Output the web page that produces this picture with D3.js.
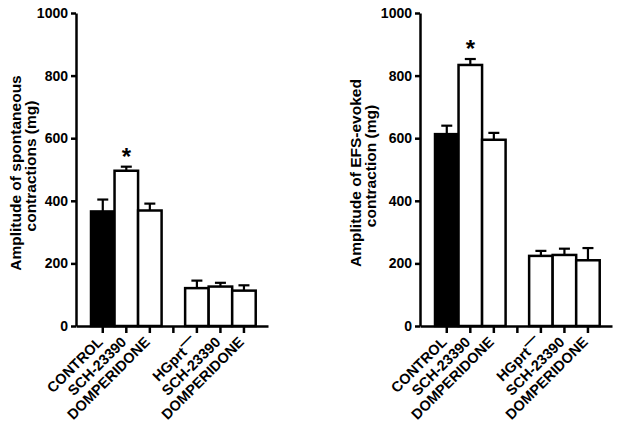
<!DOCTYPE html>
<html>
<head>
<meta charset="utf-8">
<script src="https://cdn.jsdelivr.net/npm/d3@7"></script>
<style>
  body { margin: 0; background: #fff; }
  svg { display: block; font-family: "Liberation Sans", Arial, sans-serif; }
</style>
</head>
<body>
<div id="chart"></div>
<script>
// groups on the x axis (slot 3 is the empty gap between the two groups)
var categories = ["CONTROL", "SCH-23390", "DOMPERIDONE", "", "HGprt", "SCH-23390", "DOMPERIDONE"];
var barFills = ["#000", "#fff", "#fff", null, "#fff", "#fff", "#fff"];
var yTicks = [0, 200, 400, 600, 800, 1000];

// spontaneous contractions (mg), mean and SEM
var spontMean = [366, 496, 369, null, 121, 126, 113];
var spontSem = [38, 13, 22, null, 24, 12, 17];
var spontStar = [1];

// EFS-evoked contraction (mg), mean and SEM
var efsMean = [613, 834, 595, null, 224, 227, 210];
var efsSem = [27, 19, 22, null, 16, 20, 39];
var efsStar = [1];

var W = 618, H = 428;
var FONT = "'Liberation Sans', Arial, sans-serif";

var svg = d3.select("#chart").append("svg")
  .attr("width", W)
  .attr("height", H);

function panel(opts) {
  var x = d3.scaleBand()
    .domain(d3.range(categories.length))
    .range([opts.left, opts.left + 192])
    .paddingInner(0)
    .paddingOuter(0.58)
    .align(0.55);

  var y = d3.scaleLinear()
    .domain([0, 1000])
    .range([326, 13]);

  var g = svg.append("g");

  var rows = categories.map(function (c, i) {
    return {i: i, name: c, mean: opts.mean[i], sem: opts.sem[i], fill: barFills[i]};
  }).filter(function (d) { return d.mean != null; });

  function cx(i) { return x(i) + x.bandwidth() / 2; }

  // error bars (upper only)
  var cap = 5.5;
  var eb = g.selectAll("g.err").data(rows).enter().append("g").attr("class", "err");
  eb.append("line")
    .attr("x1", function (d) { return cx(d.i); })
    .attr("x2", function (d) { return cx(d.i); })
    .attr("y1", function (d) { return y(d.mean); })
    .attr("y2", function (d) { return y(d.mean + d.sem); })
    .attr("stroke", "#000").attr("stroke-width", 2.2);
  eb.append("line")
    .attr("x1", function (d) { return cx(d.i) - cap; })
    .attr("x2", function (d) { return cx(d.i) + cap; })
    .attr("y1", function (d) { return y(d.mean + d.sem); })
    .attr("y2", function (d) { return y(d.mean + d.sem); })
    .attr("stroke", "#000").attr("stroke-width", 2.2);

  // bars
  g.selectAll("rect.bar").data(rows).enter().append("rect")
    .attr("class", "bar")
    .attr("x", function (d) { return x(d.i); })
    .attr("width", x.bandwidth())
    .attr("y", function (d) { return y(d.mean); })
    .attr("height", function (d) { return y(0) - y(d.mean); })
    .attr("fill", function (d) { return d.fill; })
    .attr("stroke", "#000")
    .attr("stroke-width", 2.5);

  // significance stars
  g.selectAll("text.star").data(opts.star).enter().append("text")
    .attr("class", "star")
    .attr("x", function (i) { return cx(i); })
    .attr("y", function (i) { return y(opts.mean[i] + opts.sem[i]) - 2; })
    .attr("text-anchor", "middle")
    .style("font-family", FONT)
    .style("font-size", "24px")
    .style("font-weight", "bold")
    .text("*");

  // y axis
  var yAxis = g.append("g")
    .attr("transform", "translate(" + opts.left + ",0)")
    .call(d3.axisLeft(y).tickValues(yTicks).tickFormat(d3.format("d"))
      .tickSize(5).tickSizeOuter(0).tickPadding(3));
  yAxis.select(".domain").attr("stroke-width", 2.5);
  yAxis.selectAll(".tick line").attr("stroke-width", 2.5);
  yAxis.selectAll(".tick text")
    .style("font-family", FONT)
    .style("font-size", "14px")
    .style("font-weight", "bold")
    .attr("fill", "#000");

  // x axis
  var xAxis = g.append("g")
    .attr("transform", "translate(0," + y(0) + ")")
    .call(d3.axisBottom(x).tickSize(7).tickSizeOuter(0).tickFormat(""));
  xAxis.select(".domain").attr("stroke-width", 2.5);
  xAxis.selectAll(".tick line").attr("stroke-width", 2.5);

  // rotated category labels
  var lab = g.selectAll("text.cat").data(categories.map(function (c, i) { return {i: i, name: c}; })
      .filter(function (d) { return d.name !== ""; }))
    .enter().append("text")
    .attr("class", "cat")
    .attr("transform", function (d) {
      return "translate(" + (cx(d.i) + 1) + "," + (y(0) + 17) + ") rotate(-45)";
    })
    .attr("text-anchor", "end")
    .style("font-family", FONT)
    .style("font-size", "14.5px")
    .style("font-weight", "bold");
  lab.each(function (d) {
    var t = d3.select(this);
    if (d.name === "HGprt") {
      t.append("tspan").text("HGprt");
      t.append("tspan").attr("dy", -6).text("\u2014");
    } else {
      t.text(d.name);
    }
  });

  // y axis title, two lines
  var title = g.append("text")
    .attr("transform", "translate(" + opts.titleX + ",173) rotate(-90)")
    .attr("text-anchor", "middle")
    .style("font-family", FONT)
    .style("font-size", "15.5px")
    .style("font-weight", "bold");
  title.append("tspan").attr("x", 0).attr("dy", 0).text(opts.title[0]);
  title.append("tspan").attr("x", 7).attr("dy", 15).text(opts.title[1]);
}

panel({left: 76, mean: spontMean, sem: spontSem, star: spontStar, titleX: 21,
  title: ["Amplitude of spontaneous", "contractions (mg)"]});
panel({left: 420, mean: efsMean, sem: efsSem, star: efsStar, titleX: 361,
  title: ["Amplitude of EFS-evoked", "contraction (mg)"]});
</script>
</body>
</html>
